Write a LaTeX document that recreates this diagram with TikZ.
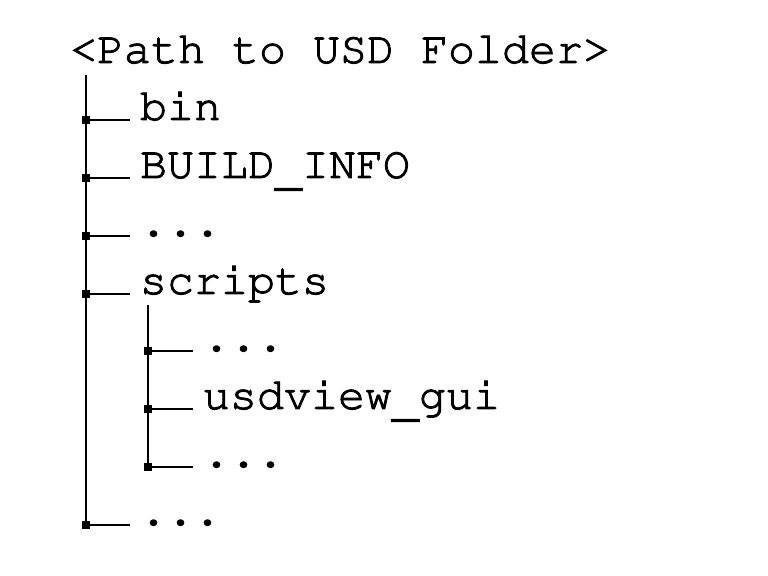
\documentclass[tikz,border=0pt]{standalone}
\usepackage[T1,TU]{fontenc}
\newcommand{\usc}{\raisebox{-3.5pt}{\_}}
\begin{document}
\begin{tikzpicture}
  [x=0.5pt,y=-0.5pt,line width=1pt,
   every node/.style={anchor=base west,inner ysep=0pt,inner xsep=4.5pt,
     font=\fontencoding{T1}\fontfamily{pcr}\fontsize{22.5}{27}\selectfont
       \special{pdf:literal direct 2 Tr 0.45 w},
     execute at end node={\special{pdf:literal direct 0 Tr}}},
   dot/.style={rectangle,fill=black,inner sep=0pt,minimum size=4pt,anchor=center,
     font=\normalfont,execute at end node={}}]
  \useasboundingbox (0,0) rectangle (768,576);

  \node[inner xsep=0pt] (root) at (69,63) {<Path to USD Folder>};

  % main trunk
  \coordinate (top) at (86,75);
  \node[dot] (j1) at (86,120) {};
  \node[dot] (j2) at (86,178) {};
  \node[dot] (j3) at (86,236) {};
  \node[dot] (j4) at (86,294) {};
  \node[dot] (j5) at (86,525) {};

  \node (bin)     at (130,120) {bin};
  \node (build)   at (130,178) {BUILD\usc INFO};
  \node (etcA)    at (130,236) {...};
  \node (scripts) at (130,294) {scripts};
  \node (etcB)    at (130,525) {...};

  % scripts subtree
  \coordinate (subtop) at (148,305);
  \node[dot] (k1) at (148,351) {};
  \node[dot] (k2) at (148,409) {};
  \node[dot] (k3) at (148,467) {};

  \node (etcC) at (193,351) {...};
  \node (gui)  at (193,409) {usdview\usc gui};
  \node (etcD) at (193,467) {...};

  \draw (top) -- (j5.center);
  \draw (subtop) -- (k3.center);
  \foreach \from/\to in {j1/bin,j2/build,j3/etcA,j4/scripts,j5/etcB,k1/etcC,k2/gui,k3/etcD}
    \draw (\from.center) -- (\to.base west);
\end{tikzpicture}
\end{document}
